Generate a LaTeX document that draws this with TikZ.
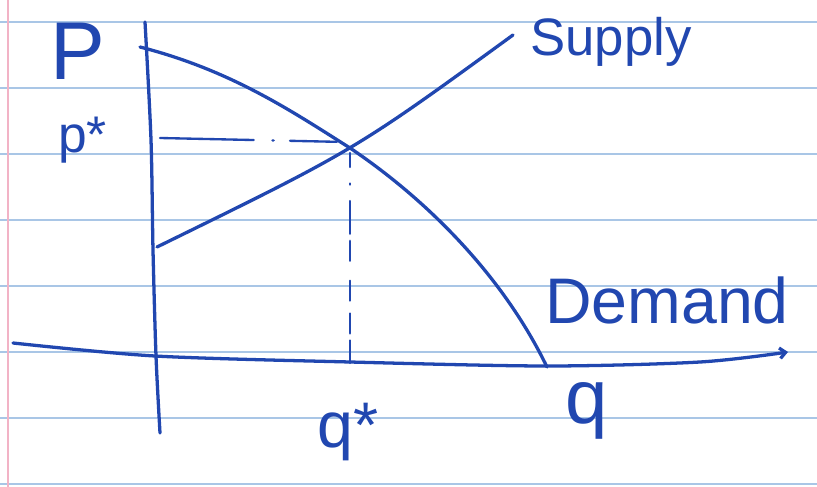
\documentclass[tikz,border=0pt]{standalone}
\usepackage{fontspec}
\setmainfont{Liberation Sans}
\usepackage{xcolor}
\usetikzlibrary{arrows.meta,calc}
\definecolor{ink}{HTML}{2147B0}
\definecolor{ruled}{HTML}{A9C6E6}
\definecolor{margin}{HTML}{F2B3C6}

\begin{document}
\begin{tikzpicture}[x=0.03cm,y=-0.03cm,
  pen/.style={draw=ink,line width=2.8pt,line cap=round,line join=round},
  guide/.style={draw=ink,line width=2pt,line cap=round},
  lbl/.style={text=ink,inner sep=0pt},
  paper/.style={draw=ruled,line width=1.3pt}]
\useasboundingbox (0,0) rectangle (817,487);
\fill[white] (0,0) rectangle (817,487);
% ruled paper
\foreach \y in {22,88,...,484} \draw[paper] (0,\y) -- (817,\y);
\draw[margin,line width=1.3pt] (8,0) -- (8,487);
% key points
\coordinate (eq) at (350,148);
\coordinate (pstart) at (160,138);
\coordinate (qfoot) at (350,363);
\coordinate (dtop) at (140,47);
\coordinate (dend) at (547,367);
\coordinate (sstart) at (157,247);
\coordinate (send) at (513,35);
% axes
\draw[pen] plot[smooth] coordinates {(145,22) (151,140) (153,250) (156,356) (160,433)};
\draw[pen,-{Straight Barb[length=5pt,width=9pt]}] plot[smooth] coordinates {(13,343) (155,356) (350,362) (547,366) (700,362) (788,352)};
% demand and supply
\draw[pen] (dtop) .. controls (230,70) and (290,110) .. (eq) .. controls (420,195) and (500,270) .. (dend);
\draw[pen] (sstart) .. controls (355,150) .. (send);
% equilibrium guides
\draw[guide,dash pattern=on 80pt off 16pt on 1pt off 14pt on 40pt] (pstart) -- ($(eq)+(-5,-6)$);
\draw[guide,dash pattern=on 12pt off 14pt on 1pt off 14pt on 28pt off 6pt on 17pt off 17pt on 17pt off 11pt on 17pt off 6pt on 20pt] ($(eq)+(0,5)$) -- (qfoot);
% labels
\node[lbl,font=\fontsize{70}{70}\selectfont,anchor=base] (P) at (78,80) {P};
\node[lbl,font=\fontsize{44}{44}\selectfont,anchor=base west] (pstar) at (58,153) {p*};
\node[lbl,font=\fontsize{45}{45}\selectfont,anchor=base west] (supply) at (530,56) {Supply};
\node[lbl,font=\fontsize{55}{55}\selectfont,anchor=base west] (demand) at (545,323) {Demand};
\node[lbl,font=\fontsize{55}{55}\selectfont,anchor=base west] (qstar) at (317,447) {q*};
\node[lbl,font=\fontsize{65}{65}\selectfont,anchor=base] (q) at (587,423) {q};
\end{tikzpicture}
\end{document}
